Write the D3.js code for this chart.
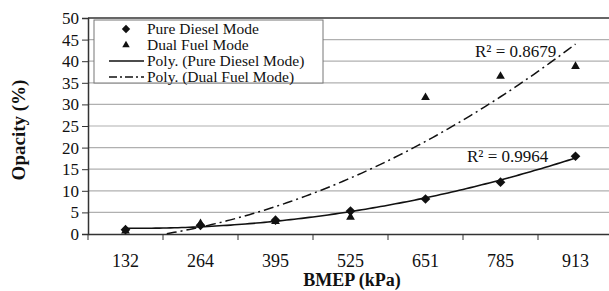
<!DOCTYPE html>
<html>
<head>
<meta charset="utf-8">
<script src="https://cdn.jsdelivr.net/npm/d3@7"></script>
<style>
  body { margin: 0; background: #fff; }
</style>
</head>
<body>
<script>
// chart data
let categories = ["132", "264", "395", "525", "651", "785", "913"];
let dieselValues = [1.0, 2.0, 3.2, 5.3, 8.1, 12.0, 18.0];
let dualValues = [0.7, 2.4, 2.9, 3.9, 31.6, 36.5, 38.8];
let yTicks = [0, 5, 10, 15, 20, 25, 30, 35, 40, 45, 50];
let r2Labels = ["R\u00b2 = 0.9964", "R\u00b2 = 0.8679"];

let width = 609, height = 291;
let margin = {left: 88, right: -4, top: 18, bottom: 57};
let serif = "Liberation Serif";

let svg = d3.select("body").append("svg")
    .attr("width", width)
    .attr("height", height)
    .style("font-family", serif);

let x = d3.scaleBand().domain(categories)
    .range([margin.left, width - margin.right]);
let xi = d3.scaleLinear().domain([0.5, 7.5])
    .range([margin.left, width - margin.right]);
let y = d3.scaleLinear().domain([0, 50])
    .range([height - margin.bottom, margin.top]);

// grid lines
svg.append("g").selectAll("line")
    .data(yTicks.filter(d => d > 0))
    .join("line")
    .attr("x1", margin.left).attr("x2", width)
    .attr("y1", d => y(d)).attr("y2", d => y(d))
    .attr("stroke", d => d == 50 ? "#333" : "#b0b0b0")
    .attr("stroke-width", d => d == 50 ? 1.5 : 1.2);

// y axis
let yAxis = svg.append("g")
    .attr("transform", `translate(${margin.left},0)`)
    .call(d3.axisLeft(y).tickValues(yTicks).tickSize(6).tickPadding(3));
yAxis.attr("font-family", serif);
yAxis.select(".domain").attr("stroke", "#333").attr("stroke-width", 1.5);
yAxis.selectAll(".tick line").attr("stroke", "#333");
yAxis.selectAll("text").style("font-size", "17px").attr("fill", "#111")
    .style("font-family", serif);

// x axis
let xAxis = svg.append("g")
    .attr("transform", `translate(0,${y(0)})`)
    .call(d3.axisBottom(x).tickSize(0).tickPadding(20));
xAxis.attr("font-family", serif);
xAxis.select(".domain").attr("stroke", "#333").attr("stroke-width", 1.5);
xAxis.selectAll("text").style("font-size", "18px").attr("fill", "#111")
    .style("font-family", serif);
svg.append("g").selectAll("line")
    .data(d3.range(0, 8))
    .join("line")
    .attr("x1", i => xi(i + 0.5)).attr("x2", i => xi(i + 0.5))
    .attr("y1", y(0)).attr("y2", y(0) + 6)
    .attr("stroke", "#333");

// quadratic trendline (least squares, x = 1..n as in a spreadsheet)
function polyFit(vals) {
    let S = [0, 0, 0, 0, 0], T = [0, 0, 0];
    vals.forEach((v, i) => {
        let t = i + 1;
        for (let k = 0; k < 5; k++) S[k] += Math.pow(t, k);
        for (let k = 0; k < 3; k++) T[k] += v * Math.pow(t, k);
    });
    let A = [[S[0], S[1], S[2], T[0]], [S[1], S[2], S[3], T[1]], [S[2], S[3], S[4], T[2]]];
    for (let i = 0; i < 3; i++) {
        for (let j = i + 1; j < 3; j++) {
            let f = A[j][i] / A[i][i];
            for (let k = i; k < 4; k++) A[j][k] -= f * A[i][k];
        }
    }
    let c = [0, 0, 0];
    for (let i = 2; i >= 0; i--) {
        let s = A[i][3];
        for (let k = i + 1; k < 3; k++) s -= A[i][k] * c[k];
        c[i] = s / A[i][i];
    }
    return t => c[0] + c[1] * t + c[2] * t * t;
}

function trendPoints(vals) {
    let f = polyFit(vals);
    return d3.range(1, 7.001, 0.05).map(t => [t, f(t)]).filter(p => p[1] >= 0);
}

let line = d3.line().x(p => xi(p[0])).y(p => y(p[1]));

svg.append("path")
    .attr("d", line(trendPoints(dieselValues)))
    .attr("fill", "none").attr("stroke", "#111").attr("stroke-width", 1.6);
svg.append("path")
    .attr("d", line(trendPoints(dualValues)))
    .attr("fill", "none").attr("stroke", "#111").attr("stroke-width", 1.5)
    .attr("stroke-dasharray", "10,4,2,4");

// markers
let diamond = d3.symbol().type(d3.symbolDiamond2).size(60);
let triangle = d3.symbol().type(d3.symbolTriangle2).size(55);

svg.append("g").selectAll("path")
    .data(dualValues)
    .join("path")
    .attr("d", triangle)
    .attr("transform", (d, i) => `translate(${x(categories[i]) + x.bandwidth() / 2},${y(d)})`)
    .attr("fill", "#111");
svg.append("g").selectAll("path")
    .data(dieselValues)
    .join("path")
    .attr("d", diamond)
    .attr("transform", (d, i) => `translate(${x(categories[i]) + x.bandwidth() / 2},${y(d)})`)
    .attr("fill", "#111");

// R² labels
svg.append("text").attr("x", 467).attr("y", 162)
    .style("font-family", serif).style("font-size", "17px").attr("fill", "#111").text(r2Labels[0]);
svg.append("text").attr("x", 475).attr("y", 57)
    .style("font-family", serif).style("font-size", "17px").attr("fill", "#111").text(r2Labels[1]);

// legend
let legend = svg.append("g");
legend.append("rect")
    .attr("x", 94).attr("y", 20).attr("width", 229).attr("height", 63)
    .attr("fill", "#fff").attr("stroke", "#777").attr("stroke-width", 1);
let legendItems = ["Pure Diesel Mode", "Dual Fuel Mode", "Poly. (Pure Diesel Mode)", "Poly. (Dual Fuel Mode)"];
let ly = d3.scalePoint().domain(d3.range(4)).range([29, 77]);
legend.selectAll("text")
    .data(legendItems)
    .join("text")
    .attr("x", 147).attr("y", (d, i) => ly(i) + 5)
    .style("font-family", serif)
    .style("font-size", "15.5px")
    .attr("fill", "#111")
    .text(d => d);
legend.append("path").attr("d", d3.symbol().type(d3.symbolDiamond2).size(45))
    .attr("transform", `translate(126,${ly(0)})`).attr("fill", "#111");
legend.append("path").attr("d", d3.symbol().type(d3.symbolTriangle2).size(40))
    .attr("transform", `translate(126,${ly(1)})`).attr("fill", "#111");
legend.append("line").attr("x1", 109).attr("x2", 144)
    .attr("y1", ly(2)).attr("y2", ly(2)).attr("stroke", "#111").attr("stroke-width", 1.5);
legend.append("line").attr("x1", 109).attr("x2", 144)
    .attr("y1", ly(3)).attr("y2", ly(3)).attr("stroke", "#111").attr("stroke-width", 1.5)
    .attr("stroke-dasharray", "8,3,2,3");

// axis titles
svg.append("text")
    .attr("x", 352).attr("y", 286)
    .attr("text-anchor", "middle")
    .style("font-family", serif)
    .style("font-size", "18px").style("font-weight", "bold")
    .attr("fill", "#111")
    .text("BMEP (kPa)");
svg.append("text")
    .attr("transform", "translate(25,130) rotate(-90)")
    .attr("text-anchor", "middle")
    .style("font-family", serif)
    .style("font-size", "19px").style("font-weight", "bold")
    .attr("fill", "#111")
    .text("Opacity (%)");
</script>
</body>
</html>
